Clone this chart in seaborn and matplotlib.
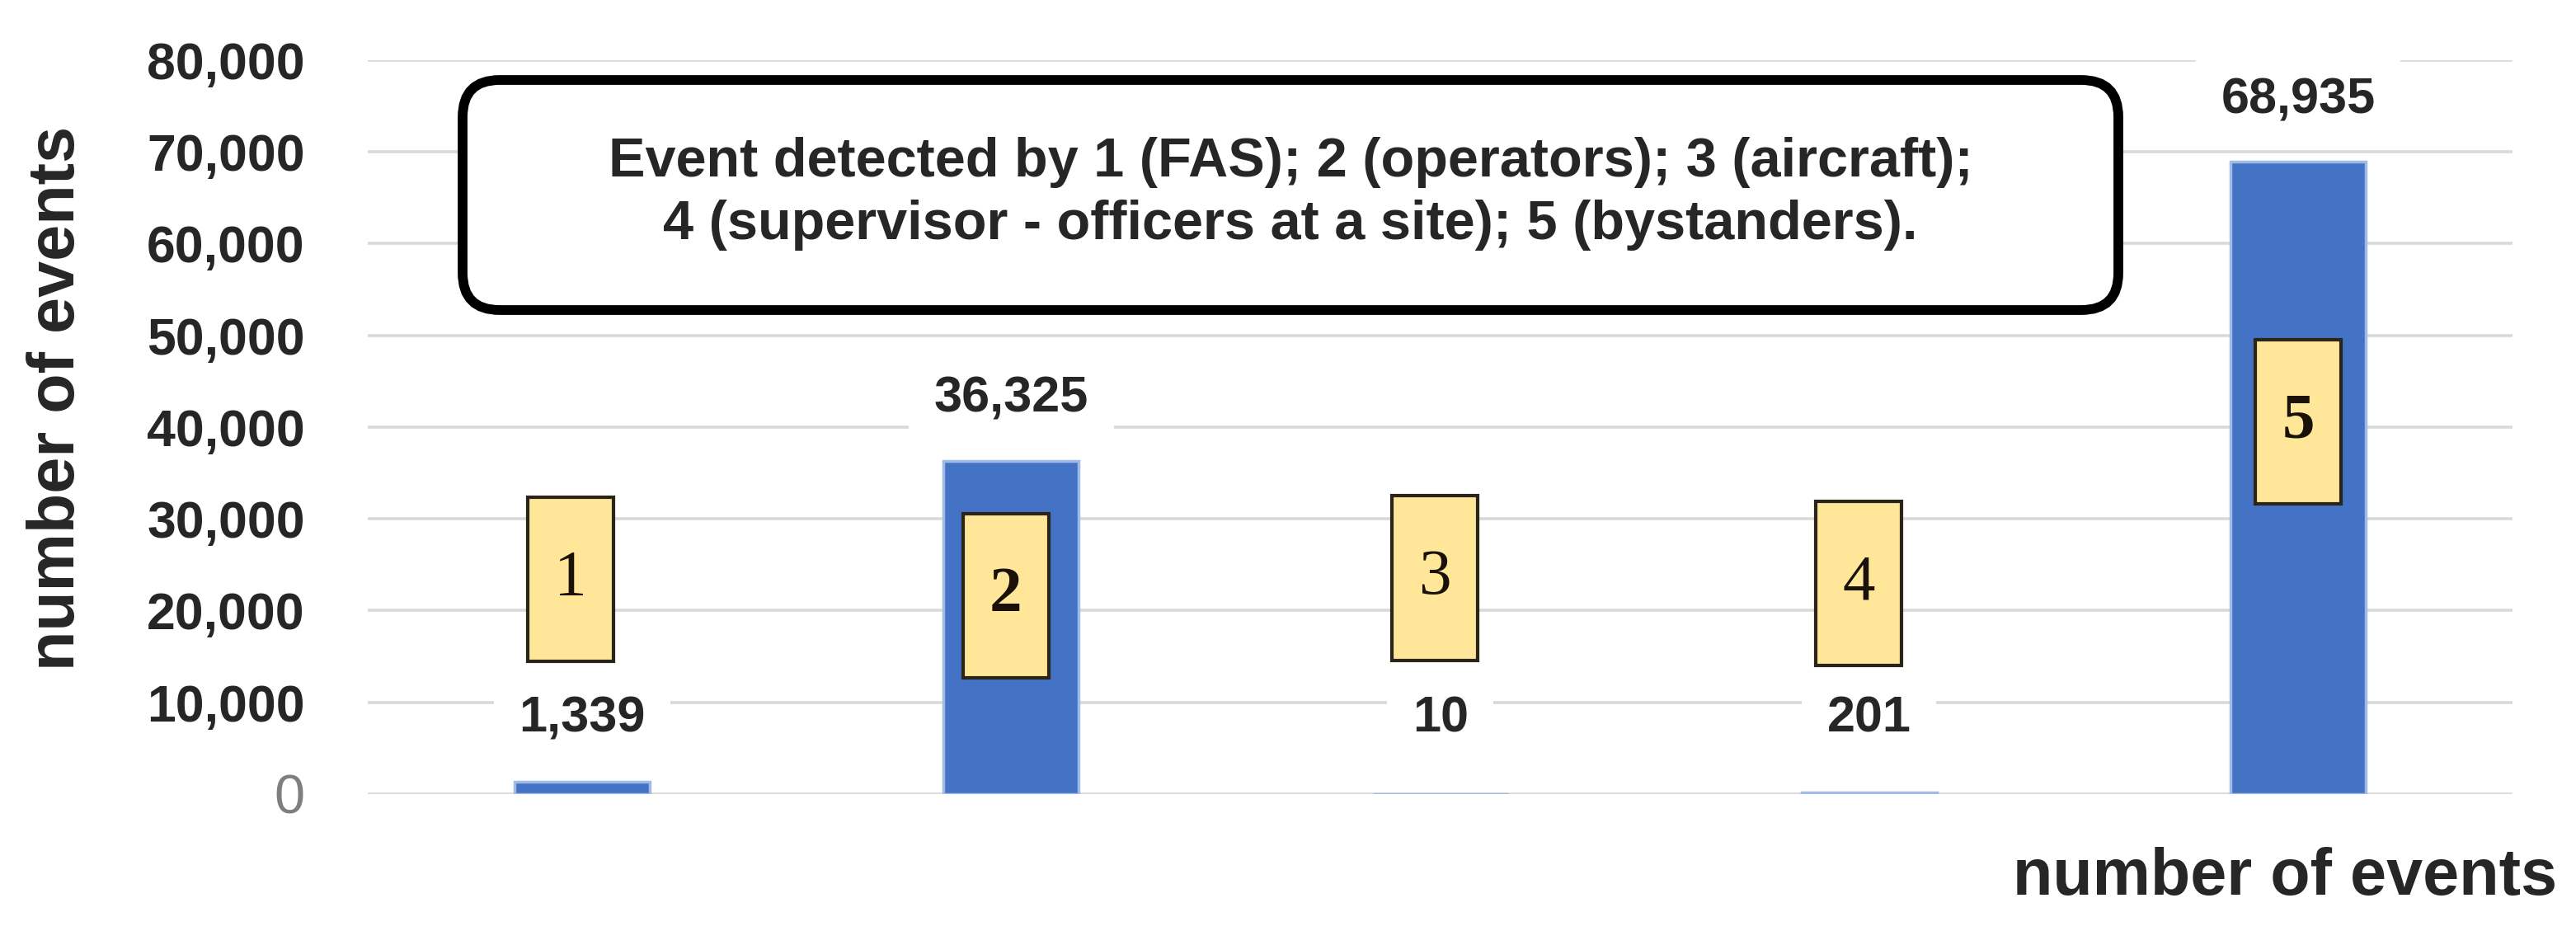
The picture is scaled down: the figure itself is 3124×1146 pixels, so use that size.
import numpy as np
import pandas as pd
import seaborn as sns
import matplotlib.pyplot as plt
from matplotlib.patches import Rectangle, FancyBboxPatch

# data
detector_codes = ['1', '2', '3', '4', '5']
detector_names = ['FAS', 'operators', 'aircraft',
                  'supervisor - officers at a site', 'bystanders']
event_counts = [1339, 36325, 10, 201, 68935]
y_ticks = [0, 10000, 20000, 30000, 40000, 50000, 60000, 70000, 80000]

df = pd.DataFrame({'detector': detector_codes, 'events': event_counts})

sns.set_style('white')
plt.rcParams['font.family'] = ['Liberation Sans', 'DejaVu Sans']

fig = plt.figure(figsize=(31.24, 11.46), dpi=100)
ax = fig.add_axes([0.1428, 0.1597, 0.8326, 0.7766])

sns.barplot(data=df, x='detector', y='events', color='#4472C4',
            saturation=1, width=0.315, ax=ax, zorder=2,
            edgecolor='#9fbbe6', linewidth=2.5)

ax.set_ylim(0, 80000)
ax.set_xlim(-0.5, 4.5)
ax.set_yticks(y_ticks)
ax.set_yticklabels([f'{t:,}' for t in y_ticks])
ax.yaxis.grid(True, color='#d9d9d9', linewidth=2.6, zorder=0)
ax.set_axisbelow(True)
for s in ax.spines.values():
    s.set_visible(False)
ax.tick_params(axis='y', length=0, pad=55, labelsize=45)
ax.tick_params(axis='x', length=0, labelbottom=False)
for lbl in ax.get_yticklabels():
    lbl.set_fontweight('bold')
ax.get_yticklabels()[0].set_fontweight('normal')
ax.get_yticklabels()[0].set_color('#7f7f7f')
ax.get_yticklabels()[0].set_fontsize(48)
ax.set_xlabel('')
ax.set_ylabel('')

# value labels above / near each bar
for i, v in enumerate(event_counts):
    ax.text(i, max(v, 1500) + 6700, f'{v:,}', ha='center', va='center',
            fontsize=44, fontweight='bold', zorder=4,
            bbox=dict(boxstyle='square,pad=0.5', facecolor='white',
                      edgecolor='none'))

# yellow numbered tags
tag_dx = [-0.027, -0.013, -0.012, -0.025, 0.0]
tag_bottom = [14500, 12700, 14600, 14000, 31600]
tag_h = 17900
tag_w = 0.2
tag_weight = ['normal', 'bold', 'normal', 'normal', 'bold']
for i, code in enumerate(detector_codes):
    x0 = i + tag_dx[i] - tag_w / 2
    ax.add_patch(Rectangle((x0, tag_bottom[i]), tag_w, tag_h,
                           facecolor='#FFE699', edgecolor='#2b2418',
                           linewidth=3, zorder=5))
    ax.text(i + tag_dx[i], tag_bottom[i] + tag_h / 2, code,
            ha='center', va='center', fontsize=57, family='Liberation Serif',
            fontweight=tag_weight[i], color='#1a1208', zorder=6)

# explanation box
box = FancyBboxPatch((5.61, 7.70), 20.08, 2.79,
                     boxstyle='round,pad=0,rounding_size=0.45',
                     transform=fig.dpi_scale_trans, facecolor='white',
                     edgecolor='black', linewidth=8.5, zorder=10)
fig.patches.append(box)
parts = [f'{c} ({n})' for c, n in zip(detector_codes, detector_names)]
box_text = ('Event detected by ' + '; '.join(parts[:3]) + ';\n'
            + '; '.join(parts[3:]) + '.')
fig.text(0.501, 0.795, box_text, ha='center', va='center',
         multialignment='center', fontsize=48, fontweight='bold',
         linespacing=1.3, zorder=11)

# axis titles
fig.text(70 / 3124, 0.5785, 'number of events', rotation=90,
         ha='center', va='center', fontsize=57, fontweight='bold')
fig.text(0.9926, 0.0532, 'number of events', ha='right', va='baseline',
         fontsize=57, fontweight='bold')

fig.savefig('out.png', dpi=100)
